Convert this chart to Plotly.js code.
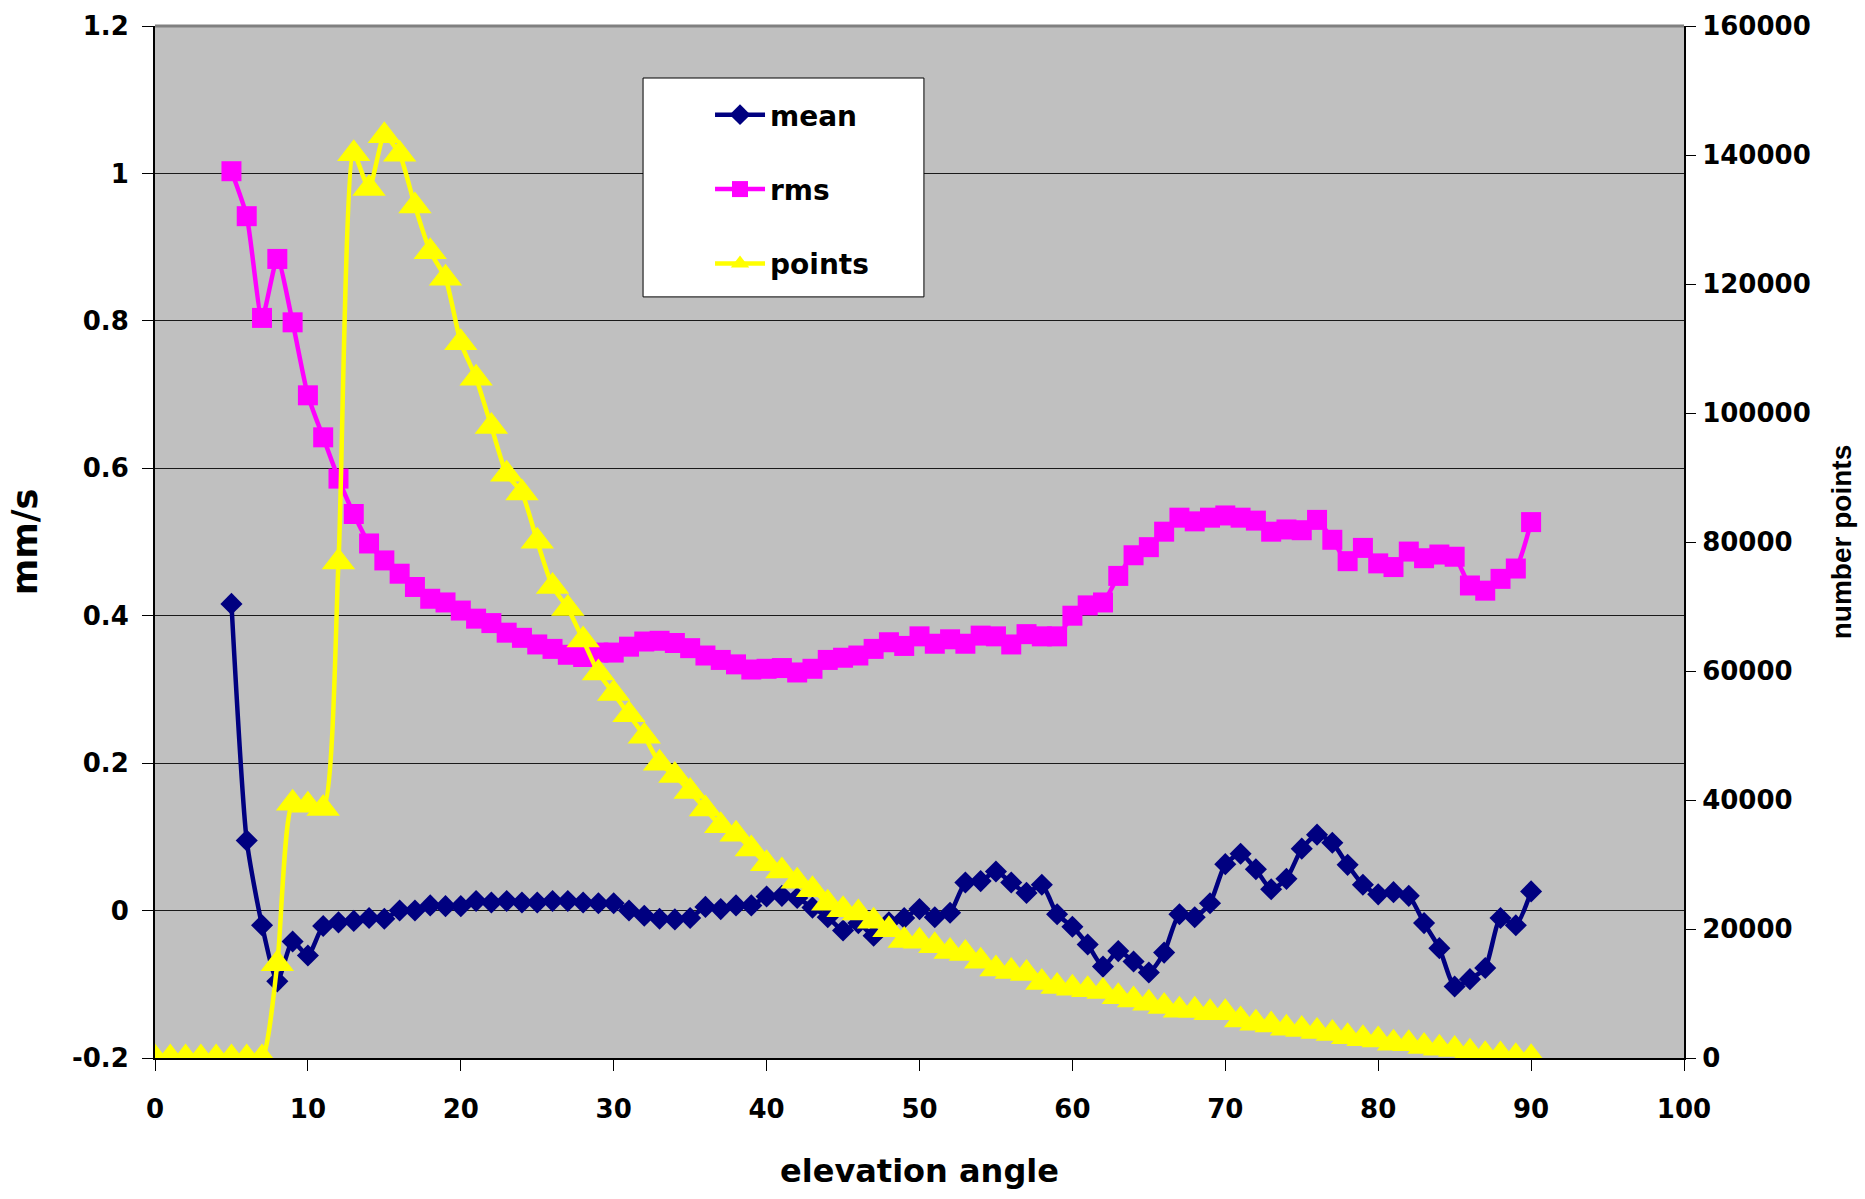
<!DOCTYPE html>
<html>
<head>
<meta charset="utf-8">
<script src="https://cdn.plot.ly/plotly-3.0.1.min.js"></script>
<style>html,body{margin:0;padding:0;background:#fff;}#chart{width:1865px;height:1199px;}</style>
</head>
<body>
<div id="chart"></div>
<script>
// elevation angles (degrees)
const anglesStat = [5,6,7,8,9,10,11,12,13,14,15,16,17,18,19,20,21,22,23,24,25,26,27,28,29,30,31,32,33,34,35,36,37,38,39,40,41,42,43,44,45,46,47,48,49,50,51,52,53,54,55,56,57,58,59,60,61,62,63,64,65,66,67,68,69,70,71,72,73,74,75,76,77,78,79,80,81,82,83,84,85,86,87,88,89,90];
const anglesPoints = [0,1,2,3,4,5,6,7,8,9,10,11,12,13,14,15,16,17,18,19,20,21,22,23,24,25,26,27,28,29,30,31,32,33,34,35,36,37,38,39,40,41,42,43,44,45,46,47,48,49,50,51,52,53,54,55,56,57,58,59,60,61,62,63,64,65,66,67,68,69,70,71,72,73,74,75,76,77,78,79,80,81,82,83,84,85,86,87,88,89,90];

// mean (mm/s)
const meanVals = [0.416,0.095,-0.020,-0.096,-0.042,-0.061,-0.021,-0.016,-0.014,-0.010,-0.011,0.000,0.000,0.007,0.006,0.006,0.013,0.011,0.013,0.011,0.011,0.013,0.013,0.011,0.010,0.010,0.000,-0.007,-0.011,-0.012,-0.010,0.005,0.002,0.007,0.007,0.019,0.020,0.017,0.004,-0.009,-0.027,-0.017,-0.034,-0.016,-0.010,0.002,-0.009,-0.003,0.038,0.040,0.053,0.038,0.024,0.035,-0.005,-0.022,-0.046,-0.076,-0.055,-0.069,-0.084,-0.057,-0.005,-0.009,0.010,0.063,0.077,0.056,0.029,0.043,0.084,0.103,0.092,0.062,0.035,0.022,0.025,0.020,-0.017,-0.051,-0.103,-0.093,-0.078,-0.010,-0.020,0.026];

// rms (mm/s)
const rmsVals = [1.003,0.942,0.804,0.884,0.798,0.699,0.642,0.586,0.538,0.498,0.475,0.457,0.439,0.423,0.418,0.407,0.396,0.390,0.377,0.370,0.361,0.355,0.347,0.344,0.350,0.350,0.358,0.365,0.366,0.363,0.356,0.346,0.340,0.334,0.327,0.328,0.329,0.323,0.328,0.340,0.343,0.346,0.355,0.364,0.359,0.372,0.362,0.368,0.362,0.373,0.372,0.361,0.375,0.372,0.372,0.400,0.414,0.418,0.454,0.482,0.493,0.514,0.533,0.528,0.533,0.536,0.533,0.529,0.514,0.517,0.516,0.530,0.503,0.474,0.492,0.471,0.466,0.487,0.478,0.483,0.480,0.441,0.434,0.450,0.464,0.527];

// number of points
const pointsVals = [0,0,0,0,0,0,0,0,14600,39500,39200,38700,76900,140200,134800,143000,140100,132100,125000,120900,110900,105400,97900,90500,87600,80100,73100,69700,64800,59700,56500,53200,49900,45700,43800,41300,38600,36000,34700,32400,30100,29000,27400,26100,24000,23000,22500,21200,19900,18200,18100,17400,16500,16200,15000,13800,13400,13100,11700,11100,10800,10600,10300,9500,9000,8500,8000,7400,7400,7000,7000,5900,5400,5100,4600,4400,4100,3800,3300,3000,2800,2300,2200,1800,1500,1300,900,500,450,200,50];

// tick labels
const leftTickVals = [-0.2,0,0.2,0.4,0.6,0.8,1,1.2];
const leftTickText = ["-0.2","0","0.2","0.4","0.6","0.8","1","1.2"];

const FONT = "DejaVu Sans, Verdana, sans-serif";
const tickFont = {family: FONT, size: 26, color: "#000", weight: "bold"};

const traces = [
  {x: anglesStat, y: meanVals, name: "mean", type: "scatter", mode: "lines+markers", legendgroup: "a",
   line: {color: "#000080", width: 4.5, shape: "spline", smoothing: 0.6},
   marker: {symbol: "diamond", size: 17, color: "#000080"}},
  {x: anglesStat, y: rmsVals, name: "rms", type: "scatter", mode: "lines+markers", legendgroup: "b",
   line: {color: "#FF00FF", width: 4.5, shape: "spline", smoothing: 0.6},
   marker: {symbol: "square", size: 20, color: "#FF00FF"}},
  {x: anglesPoints, y: pointsVals, name: "points", type: "scatter", mode: "lines+markers", legendgroup: "c", yaxis: "y2",
   line: {color: "#FFFF00", width: 4.5, shape: "spline", smoothing: 0.6},
   marker: {symbol: "triangle-up", size: 29, color: "#FFFF00"}}
];

const layout = {
  width: 1865, height: 1199,
  margin: {l: 155, r: 181, t: 26, b: 141, pad: 0},
  paper_bgcolor: "#ffffff",
  plot_bgcolor: "#C0C0C0",
  showlegend: true,
  legend: {x: 0.363, xanchor: "left", y: 0.938, yanchor: "top", bgcolor: "rgba(0,0,0,0)", borderwidth: 0,
           font: {family: FONT, size: 28, color: "#000", weight: "bold"}, itemwidth: 50, tracegroupgap: 35,
           itemsizing: "trace"},
  xaxis: {range: [0, 100], dtick: 10, tick0: 0, showgrid: false, zeroline: false,
          showline: true, linecolor: "#000", linewidth: 2,
          ticks: "outside", ticklen: 11, tickcolor: "#000", tickwidth: 1,
          tickfont: tickFont, ticklabelstandoff: 16,
          title: {text: "elevation angle", font: {family: FONT, size: 32, color: "#000", weight: "bold"}, standoff: 36}},
  yaxis: {range: [-0.2, 1.2], tickvals: leftTickVals, ticktext: leftTickText,
          showgrid: true, gridcolor: "#1a1a1a", gridwidth: 1, zeroline: false,
          showline: true, linecolor: "#000", linewidth: 2,
          ticks: "outside", ticklen: 11, tickcolor: "#000", tickwidth: 1,
          tickfont: tickFont, ticklabelstandoff: 8,
          title: {text: "mm/s", font: {family: FONT, size: 35, color: "#000", weight: "bold"}, standoff: 24}},
  yaxis2: {range: [0, 160000], dtick: 20000, tick0: 0, overlaying: "y", side: "right", anchor: "x",
           tickformat: "d", showgrid: false, zeroline: false,
           showline: true, linecolor: "#000", linewidth: 2,
           ticks: "outside", ticklen: 10, tickcolor: "#000", tickwidth: 1,
           tickfont: tickFont, ticklabelstandoff: 1,
           title: {text: "number points", font: {family: "Liberation Sans, Arial, sans-serif", size: 28, color: "#000", weight: "bold"}, standoff: 22}},
  shapes: [
    {type: "line", xref: "paper", yref: "paper", x0: 0, x1: 1, y0: 1, y1: 1, line: {color: "#808080", width: 3}, layer: "above"},
    {type: "rect", xref: "paper", yref: "paper", x0: 0.3192, x1: 0.5029, y0: 0.9496, y1: 0.7375,
     fillcolor: "#ffffff", line: {color: "#000", width: 1}, layer: "above"}
  ]
};

Plotly.newPlot("chart", traces, layout, {displayModeBar: false, staticPlot: true});
</script>
</body>
</html>
